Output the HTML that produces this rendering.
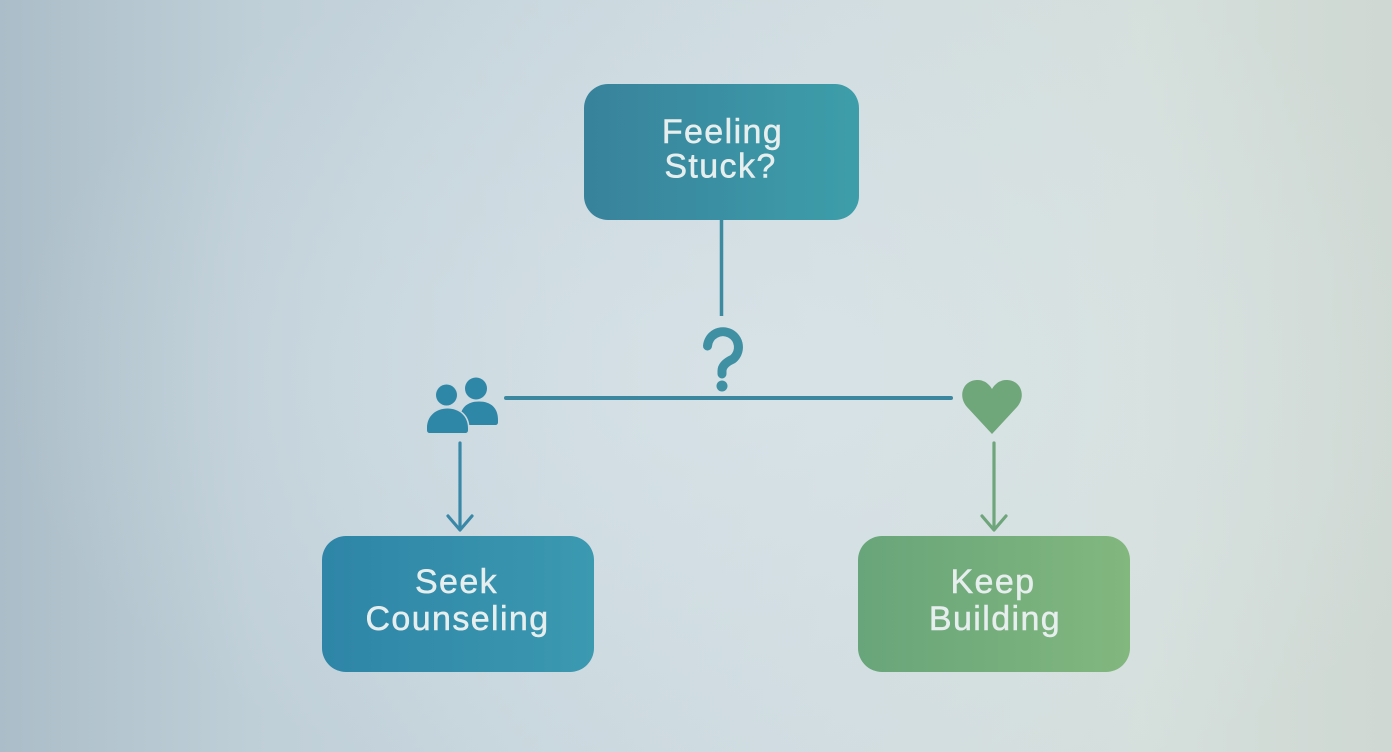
<!DOCTYPE html>
<html>
<head>
<meta charset="utf-8">
<style>
  html, body { margin:0; padding:0; }
  body {
    width:1392px; height:752px; overflow:hidden;
    background:
      radial-gradient(ellipse 55% 60% at 55% 50%, rgba(222,232,236,0.55), rgba(222,232,236,0) 100%),
      linear-gradient(90deg, #abbdc8 0%, #bfcfd8 18%, #c9d7de 40%, #d0dce0 60%, #d5dfdc 82%, #cfd8d2 100%);
  }
  svg { position:absolute; left:0; top:0; }
  text { font-family:"Liberation Sans", Arial, sans-serif; font-size:34px; fill:#e6eeee; letter-spacing:1.4px; stroke:#e6eeee; stroke-width:0.5px; }
</style>
</head>
<body>
<svg width="1392" height="752" viewBox="0 0 1392 752" xmlns="http://www.w3.org/2000/svg">
  <defs>
    <linearGradient id="gTop" x1="0" y1="0" x2="1" y2="0">
      <stop offset="0" stop-color="#38829c"/>
      <stop offset="1" stop-color="#3d9ea9"/>
    </linearGradient>
    <linearGradient id="gBlue" x1="0" y1="0" x2="1" y2="0">
      <stop offset="0" stop-color="#2e85a7"/>
      <stop offset="1" stop-color="#3b99b0"/>
    </linearGradient>
    <linearGradient id="gGreen" x1="0" y1="0" x2="1" y2="0">
      <stop offset="0" stop-color="#68a57a"/>
      <stop offset="1" stop-color="#82b77e"/>
    </linearGradient>
  </defs>

  <!-- Top box -->
  <rect x="584" y="84" width="275" height="136" rx="24" ry="24" fill="url(#gTop)"/>
  <text x="722.5" y="143" text-anchor="middle">Feeling</text>
  <text x="720.5" y="177.5" text-anchor="middle">Stuck?</text>

  <!-- Vertical connector -->
  <line x1="721.5" y1="220" x2="721.5" y2="316" stroke="#3b8a9f" stroke-width="3.5"/>

  <!-- Question mark -->
  <path d="M707.5,346 A15.5,15.5 0 1 1 733,359 Q722,364 722,371 L722,374" fill="none" stroke="#3f90a2" stroke-width="9" stroke-linecap="round" stroke-linejoin="round"/>
  <circle cx="722" cy="386" r="5.5" fill="#3f90a2"/>

  <!-- Horizontal line -->
  <line x1="506" y1="398" x2="951" y2="398" stroke="#3c87a0" stroke-width="4" stroke-linecap="round"/>

  <!-- People icon -->
  <g fill="#2f87a8">
    <circle cx="476" cy="388.5" r="11"/>
    <path d="M460,425 L460,420 C460,408 467,401.5 479,401.5 C491,401.5 498,408 498,420 L498,422 C498,424 497,425 495,425 Z"/>
    <path d="M427,433 L427,428 C427,416 436,408.5 447.5,408.5 C459,408.5 468,416 468,428 L468,430 C468,432 467,433 465,433 L430,433 C428,433 427,432 427,430 Z" stroke="#cbd9df" stroke-width="3"/>
    <circle cx="446.5" cy="395" r="10.5" stroke="#cbd9df" stroke-width="2"/>
    <path d="M427,433 L427,428 C427,416 436,408.5 447.5,408.5 C459,408.5 468,416 468,428 L468,430 C468,432 467,433 465,433 L430,433 C428,433 427,432 427,430 Z"/>
    <circle cx="446.5" cy="395" r="10.5"/>
  </g>

  <!-- Heart icon -->
  <path d="M992,434 L967,407 C958,397 962,381 976.5,380 C984,379.5 989,384 992,389 C995,384 1000,379.5 1007.5,380 C1022,381 1026,397 1017,407 Z" fill="#6fa67a"/>

  <!-- Left arrow -->
  <line x1="460" y1="443" x2="460" y2="529" stroke="#3a88a8" stroke-width="3.2" stroke-linecap="round"/>
  <polyline points="448,516 460,530 472,516" fill="none" stroke="#3a88a8" stroke-width="3.2" stroke-linecap="round" stroke-linejoin="round"/>

  <!-- Right arrow -->
  <line x1="994" y1="443" x2="994" y2="529" stroke="#6ea57a" stroke-width="3.2" stroke-linecap="round"/>
  <polyline points="982,516 994,530 1006,516" fill="none" stroke="#6ea57a" stroke-width="3.2" stroke-linecap="round" stroke-linejoin="round"/>

  <!-- Bottom left box -->
  <rect x="322" y="536" width="272" height="136" rx="24" ry="24" fill="url(#gBlue)"/>
  <text x="456.5" y="593" text-anchor="middle">Seek</text>
  <text x="457.5" y="630" text-anchor="middle">Counseling</text>

  <!-- Bottom right box -->
  <rect x="858" y="536" width="272" height="136" rx="24" ry="24" fill="url(#gGreen)"/>
  <text x="993" y="593" text-anchor="middle">Keep</text>
  <text x="995" y="630" text-anchor="middle">Building</text>
</svg>
</body>
</html>
